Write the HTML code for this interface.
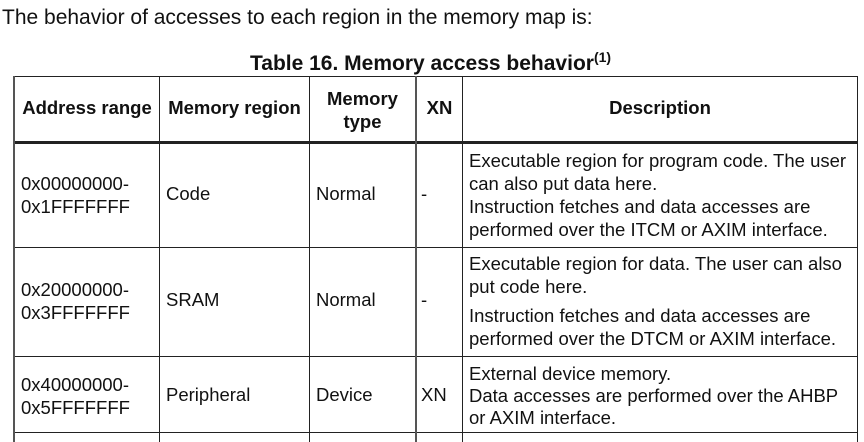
<!DOCTYPE html>
<html><head><meta charset="utf-8"><style>
body{margin:0;width:864px;height:442px;background:#fff;position:relative;overflow:hidden;font-family:"Liberation Sans",Arial,sans-serif;color:#111}
.t{position:absolute;white-space:nowrap;font-size:18.5px;line-height:20px}
.b{font-weight:bold}
.h{position:absolute;background:#222}
.c{text-align:center}
</style></head><body>
<div class="t" style="left:2px;top:7px;font-size:21px;line-height:22px">The behavior of accesses to each region in the memory map is:</div>
<div class="t b" style="left:250px;top:46px;font-size:21px;line-height:22px;transform:scaleX(1.0);transform-origin:left">Table 16. Memory access behavior<sup style="font-size:14px;vertical-align:8px">(1)</sup></div>

<div class="h" style="left:13px;top:76px;width:845px;height:1px"></div>
<div class="h" style="left:13px;top:141px;width:845px;height:3px"></div>
<div class="h" style="left:13px;top:247px;width:845px;height:1px"></div>
<div class="h" style="left:13px;top:356px;width:845px;height:1px"></div>
<div class="h" style="left:13px;top:432px;width:845px;height:1px"></div>
<div class="h" style="left:13px;top:76px;width:2px;height:366px;background:#555"></div>
<div class="h" style="left:159px;top:76px;width:1px;height:366px"></div>
<div class="h" style="left:309px;top:76px;width:1px;height:366px"></div>
<div class="h" style="left:415px;top:76px;width:2px;height:366px;background:#555"></div>
<div class="h" style="left:462px;top:76px;width:1px;height:366px"></div>
<div class="h" style="left:857px;top:76px;width:1px;height:366px"></div>

<div class="t b c" style="left:15px;width:144px;top:98px">Address range</div>
<div class="t b c" style="left:160px;width:149px;top:98px">Memory region</div>
<div class="t b c" style="left:310px;width:105px;top:87px;line-height:23px">Memory<br>type</div>
<div class="t b c" style="left:417px;width:45px;top:98px">XN</div>
<div class="t b c" style="left:463px;width:394px;top:98px">Description</div>

<div class="t" style="left:21px;top:172px;line-height:23px">0x00000000-<br>0x1FFFFFFF</div>
<div class="t" style="left:166px;top:184px">Code</div>
<div class="t" style="left:316px;top:184px">Normal</div>
<div class="t" style="left:421px;top:184px">-</div>
<div class="t" style="left:469px;top:149px;line-height:23px">Executable region for program code. The user<br>can also put data here.<br>Instruction fetches and data accesses are<br>performed over the ITCM or AXIM interface.</div>

<div class="t" style="left:21px;top:278px;line-height:23px">0x20000000-<br>0x3FFFFFFF</div>
<div class="t" style="left:166px;top:290px">SRAM</div>
<div class="t" style="left:316px;top:290px">Normal</div>
<div class="t" style="left:421px;top:290px">-</div>
<div class="t" style="left:469px;top:252px;line-height:23px">Executable region for data. The user can also<br>put code here.</div>
<div class="t" style="left:469px;top:304px;line-height:23px">Instruction fetches and data accesses are<br>performed over the DTCM or AXIM interface.</div>

<div class="t" style="left:21px;top:373px;line-height:23px">0x40000000-<br>0x5FFFFFFF</div>
<div class="t" style="left:166px;top:385px">Peripheral</div>
<div class="t" style="left:316px;top:385px">Device</div>
<div class="t" style="left:421px;top:385px">XN</div>
<div class="t" style="left:469px;top:363px;line-height:22px">External device memory.<br>Data accesses are performed over the AHBP<br>or AXIM interface.</div>
</body></html>
